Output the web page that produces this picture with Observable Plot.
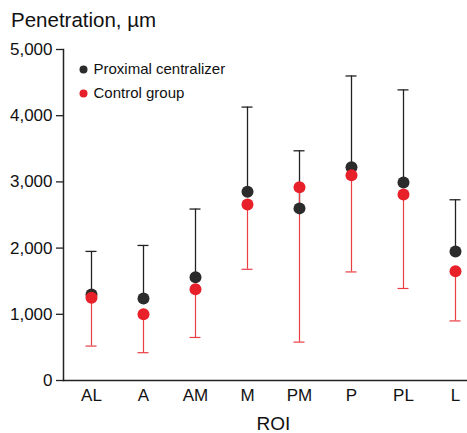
<!DOCTYPE html>
<html>
<head>
<meta charset="utf-8">
<script src="https://cdn.jsdelivr.net/npm/d3@7"></script>
<script src="https://cdn.jsdelivr.net/npm/@observablehq/plot@0.6"></script>
<style>
  html, body { margin: 0; padding: 0; background: #fff; }
  #title { box-sizing: border-box; height: 36px; padding: 8px 0 0 11px; font-family: "Liberation Sans", Arial, Helvetica, sans-serif; font-size: 20.5px; color: #111; line-height: normal; }
  #chart svg { display: block; }
</style>
</head>
<body>
<div id="title">Penetration, µm</div>
<div id="chart"></div>
<script>
const categories = ["AL", "A", "AM", "M", "PM", "P", "PL", "L"];
const proxMean  = [1300, 1240, 1560, 2850, 2600, 3220, 2990, 1950];
const proxUpper = [1950, 2040, 2590, 4130, 3470, 4600, 4390, 2730];
const ctrlMean  = [1250, 1000, 1380, 2660, 2920, 3100, 2810, 1650];
const ctrlLower = [520, 420, 650, 1680, 580, 1640, 1390, 900];
const yTicks = [0, 1000, 2000, 3000, 4000, 5000];
const seriesNames = ["Proximal centralizer", "Control group"];

const prox = categories.map((c, i) => ({roi: c, mean: proxMean[i], end: proxUpper[i]}));
const ctrl = categories.map((c, i) => ({roi: c, mean: ctrlMean[i], end: ctrlLower[i]}));

const BLACK = "#2b2b2b";
const RED = "#e8202a";

const chart = Plot.plot({
  width: 467,
  height: 397,
  marginLeft: 63,
  marginRight: 0,
  marginTop: 13,
  marginBottom: 53,
  style: {fontFamily: "'Liberation Sans', Arial, Helvetica, sans-serif", fontSize: "17px", color: "#111", background: "#fff"},
  x: {type: "band", domain: categories, range: [65, 481], padding: 0},
  y: {domain: [0, 5000], nice: false},
  marks: [
    Plot.axisY({ticks: yTicks, tickFormat: d3.format(","), tickSize: 7, tickPadding: 4, label: null, stroke: "#222", strokeWidth: 1.3}),
    Plot.axisX({tickSize: 0, tickPadding: 8, label: null}),
    Plot.frame({anchor: "left", stroke: "#222", strokeWidth: 1.5}),
    Plot.frame({anchor: "bottom", stroke: "#222", strokeWidth: 1.5}),
    // error bars
    Plot.ruleX(prox, {x: "roi", y1: "mean", y2: "end", stroke: "#222", strokeWidth: 1.3}),
    Plot.tickY(prox, {x: "roi", y: "end", stroke: "#222", strokeWidth: 1.3, insetLeft: 20.5, insetRight: 20.5}),
    Plot.ruleX(ctrl, {x: "roi", y1: "mean", y2: "end", stroke: "#ea3d44", strokeWidth: 1.2}),
    Plot.tickY(ctrl, {x: "roi", y: "end", stroke: "#ea3d44", strokeWidth: 1.2, insetLeft: 20.5, insetRight: 20.5}),
    // dots
    Plot.dot(prox, {x: "roi", y: "mean", r: 6, fill: BLACK, stroke: "none"}),
    Plot.dot(ctrl, {x: "roi", y: "mean", r: 6, fill: RED, stroke: "none"}),
    // legend
    Plot.dot([seriesNames[0]], {frameAnchor: "top-left", dx: 20, dy: 20, r: 4, fill: BLACK}),
    Plot.dot([seriesNames[1]], {frameAnchor: "top-left", dx: 20, dy: 44, r: 4, fill: RED}),
    Plot.text([seriesNames[0]], {text: d => d, frameAnchor: "top-left", dx: 30, dy: 20, textAnchor: "start", lineAnchor: "middle", fontSize: 15, fill: "#111"}),
    Plot.text([seriesNames[1]], {text: d => d, frameAnchor: "top-left", dx: 30, dy: 44, textAnchor: "start", lineAnchor: "middle", fontSize: 15, fill: "#111"}),
    // x axis label
    Plot.text(["ROI"], {text: d => d, frameAnchor: "bottom", dx: 8, dy: 43, lineAnchor: "middle", fontSize: 19, fill: "#111"})
  ]
});
document.getElementById("chart").appendChild(chart);
</script>
</body>
</html>
